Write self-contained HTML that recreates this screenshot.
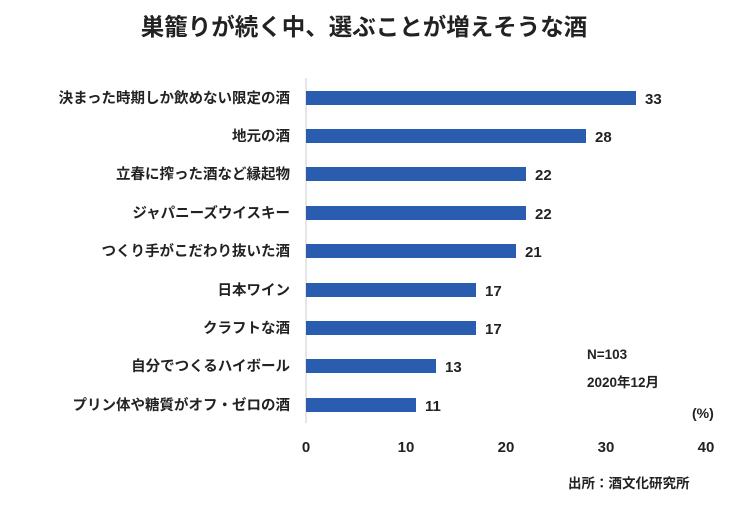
<!DOCTYPE html>
<html><head><meta charset="utf-8"><style>
body{margin:0;background:#fff;}
svg text{font-family:"Liberation Sans","Noto Sans CJK JP",sans-serif;font-weight:bold;fill:#222;}
</style></head><body>
<svg width="750" height="500" xmlns="http://www.w3.org/2000/svg">
<rect width="750" height="500" fill="#fff"/>
<text x="364" y="35" font-size="23.5" text-anchor="middle">巣籠りが続く中、選ぶことが増えそうな酒</text>
<line x1="306" y1="78" x2="306" y2="423" stroke="#ccc" stroke-width="1"/>
<g fill="#2a5caf">
<rect x="306" y="91" width="330" height="14"/>
<rect x="306" y="129" width="280" height="14"/>
<rect x="306" y="167" width="220" height="14"/>
<rect x="306" y="206" width="220" height="14"/>
<rect x="306" y="244" width="210" height="14"/>
<rect x="306" y="283" width="170" height="14"/>
<rect x="306" y="321" width="170" height="14"/>
<rect x="306" y="359" width="130" height="14"/>
<rect x="306" y="398" width="110" height="14"/>
</g>
<g font-size="14.5" text-anchor="end">
<text x="290" y="103">決まった時期しか飲めない限定の酒</text>
<text x="290" y="141">地元の酒</text>
<text x="290" y="179">立春に搾った酒など縁起物</text>
<text x="290" y="218">ジャパニーズウイスキー</text>
<text x="290" y="256">つくり手がこだわり抜いた酒</text>
<text x="290" y="295">日本ワイン</text>
<text x="290" y="333">クラフトな酒</text>
<text x="290" y="371">自分でつくるハイボール</text>
<text x="290" y="410">プリン体や糖質がオフ・ゼロの酒</text>
</g>
<g font-size="15">
<text x="645" y="104">33</text>
<text x="595" y="142">28</text>
<text x="535" y="180">22</text>
<text x="535" y="219">22</text>
<text x="525" y="257">21</text>
<text x="485" y="296">17</text>
<text x="485" y="334">17</text>
<text x="445" y="372">13</text>
<text x="425" y="411">11</text>
</g>
<g font-size="15" text-anchor="middle">
<text x="306" y="452">0</text>
<text x="406" y="452">10</text>
<text x="506" y="452">20</text>
<text x="606" y="452">30</text>
<text x="706" y="452">40</text>
</g>
<text x="587" y="359" font-size="13.5">N=103</text>
<text x="587" y="387" font-size="13.5">2020年12月</text>
<text x="692" y="418" font-size="14">(%)</text>
<text x="568" y="488" font-size="13.5">出所：酒文化研究所</text>
</svg>
</body></html>
